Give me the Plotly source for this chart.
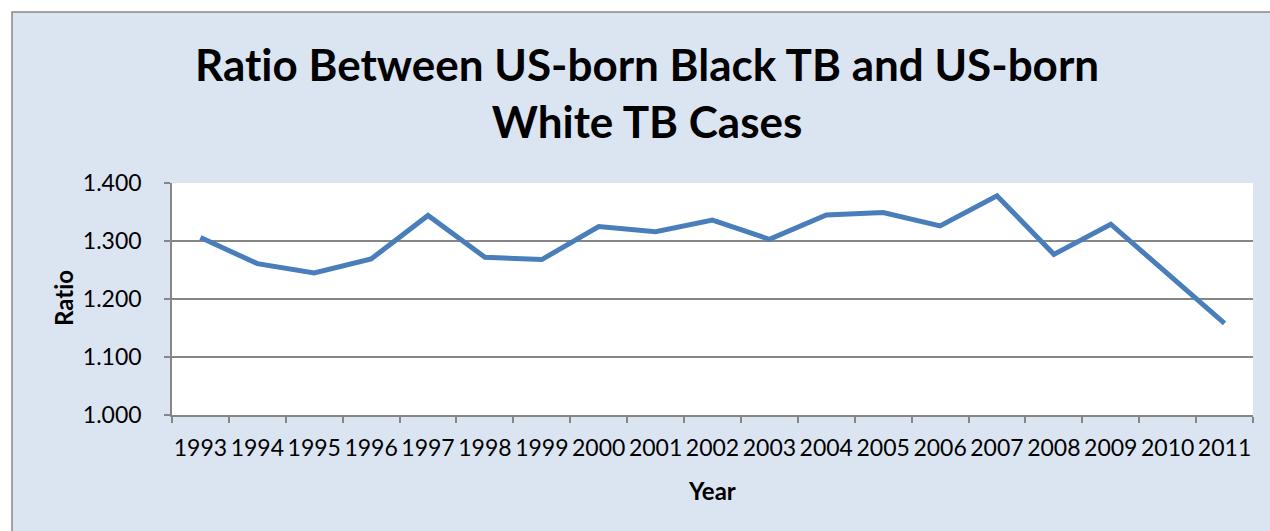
import plotly.graph_objects as go

years = [str(y) for y in range(1993, 2012)]
ratio = [1.306, 1.261, 1.245, 1.269, 1.344, 1.272, 1.268, 1.325, 1.316, 1.336,
         1.303, 1.345, 1.349, 1.326, 1.378, 1.277, 1.329, 1.243, 1.158]
y_ticks = [1.0, 1.1, 1.2, 1.3, 1.4]
y_tick_text = ["1.000", "1.100", "1.200", "1.300", "1.400"]

W, H = 1270, 531
L, R, T, B = 172, 17, 183, 116
PW, PH = W - L - R, H - T - B

def px_x(p):
    return (p - L) / PW

def px_y(p):
    return (H - B - p) / PH

FONT = "Lato"
GRID = "#868686"

fig = go.Figure()
fig.add_trace(go.Scatter(
    x=years, y=ratio, mode="lines",
    line=dict(color="#4a7ebb", width=5),
    hoverinfo="x+y", showlegend=False,
))

fig.update_layout(
    template="none",
    width=W, height=H,
    margin=dict(l=L, r=R, t=T, b=B, pad=0),
    paper_bgcolor="white",
    plot_bgcolor="white",
    font=dict(family=FONT, color="black"),
    showlegend=False,
    shapes=[
        # chart area with its grey frame
        dict(type="rect", xref="paper", yref="paper", layer="below",
             x0=px_x(12), x1=px_x(1290), y0=px_y(560), y1=px_y(12),
             fillcolor="#dbe5f1", line=dict(color="#878787", width=1.5)),
        # white plot area
        dict(type="rect", xref="paper", yref="paper", layer="below",
             x0=0, x1=1, y0=0, y1=1,
             fillcolor="white", line=dict(width=0)),
    ],
    annotations=[
        dict(text="<b>Rat\u200cio Between US-born Black TB and US-born<br>White TB Cases</b>",
             xref="paper", yref="paper", x=px_x(647), y=px_y(92),
             xanchor="center", yanchor="middle", showarrow=False,
             font=dict(size=44, family=FONT, color="black")),
        dict(text="<b>Rat\u200cio</b>", xref="paper", yref="paper",
             x=px_x(63), y=px_y(298), textangle=-90,
             xanchor="center", yanchor="middle", showarrow=False,
             font=dict(size=24, family=FONT, color="black")),
        dict(text="<b>Year</b>", xref="paper", yref="paper",
             x=px_x(712), y=px_y(490),
             xanchor="center", yanchor="middle", showarrow=False,
             font=dict(size=24, family=FONT, color="black")),
    ],
)

fig.update_xaxes(
    type="category", tickson="boundaries", range=[-0.5, len(years) - 0.5],
    automargin=False, tickangle=0,
    ticks="outside", ticklen=6, tickcolor=GRID, tickwidth=1.5,
    showline=True, linecolor=GRID, linewidth=1.5,
    showgrid=False, zeroline=False,
    tickfont=dict(size=23, family=FONT, color="black"),
    ticklabelstandoff=12,
)
fig.update_yaxes(
    range=[1.0, 1.4], tickvals=y_ticks, ticktext=y_tick_text,
    automargin=False,
    ticks="outside", ticklen=6, tickcolor=GRID, tickwidth=1.5,
    showline=True, linecolor=GRID, linewidth=1.5,
    showgrid=True, gridcolor=GRID, gridwidth=1.5, zeroline=False,
    tickfont=dict(size=23, family=FONT, color="black"),
    ticklabelstandoff=18,
)

fig.write_html("out.html")
